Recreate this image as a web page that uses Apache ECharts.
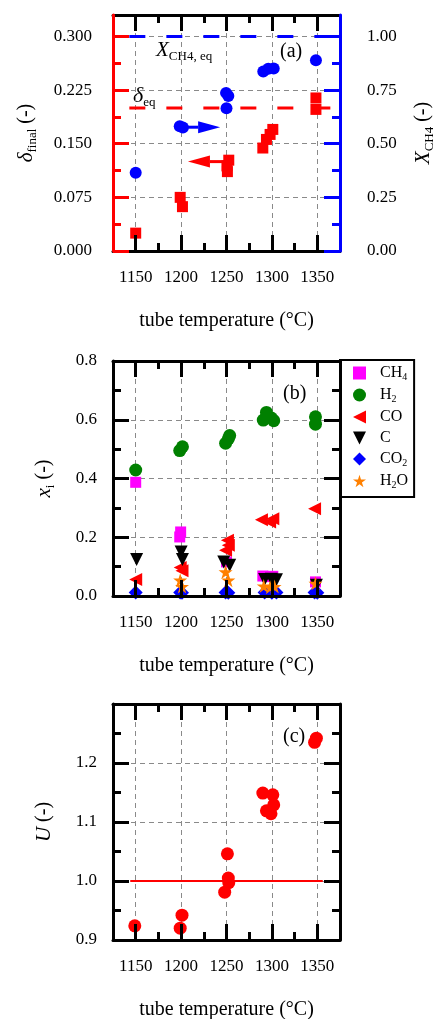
<!DOCTYPE html>
<html>
<head>
<meta charset="utf-8">
<script src="https://cdn.jsdelivr.net/npm/echarts@6/dist/echarts.min.js"></script>
<style>
  html, body { margin: 0; padding: 0; background: #fff; }
  #chart { width: 436px; height: 1019px; }
</style>
</head>
<body>
<div id="chart"></div>
<script>
// ---- temperature axis (°C) ----
const tempMin = 1125, tempMax = 1375;
const tempTicks = [1150, 1200, 1250, 1300, 1350];
const tempMinorTicks = [1175, 1225, 1275, 1325];

// ---- (a) final carbon yield δ_final (left) and methane conversion X_CH4 (right) ----
const deltaTemp  = [1150, 1199, 1201.5, 1252.5, 1250.5, 1251, 1301, 1298, 1294, 1290, 1348.5, 1348.5];
const deltaFinal = [0.025, 0.075, 0.062, 0.127, 0.119, 0.111, 0.170, 0.163, 0.156, 0.144, 0.214, 0.198];
const xch4Temp   = [1150, 1198.5, 1202, 1249.5, 1252, 1250, 1290.5, 1296, 1302, 1348.5];
const xch4Value  = [0.365, 0.582, 0.576, 0.737, 0.722, 0.665, 0.837, 0.850, 0.851, 0.889];
const deltaEq = 0.2;
const xch4Eq = 1.0;
const eqLineTemp = [1143, 1375];
const deltaTicks = [0, 0.075, 0.15, 0.225, 0.3];
const deltaMinorTicks = [0.0375, 0.1125, 0.1875, 0.2625];
const xch4Ticks = [0, 0.25, 0.5, 0.75, 1.0];
const xch4MinorTicks = [0.125, 0.375, 0.625, 0.875];
// arrows pointing each series to its axis: [from, to, level]
const arrowFrom  = [1201, 1248];
const arrowTo    = [1243, 1207.5];
const arrowLevel = [0.577, 0.125];

// ---- (b) product mole fractions x_i ----
const ch4Temp = [1150, 1199.5, 1198.5, 1250, 1290, 1296, 1301, 1348];
const ch4Frac = [0.387, 0.218, 0.201, 0.116, 0.068, 0.066, 0.067, 0.048];
const h2Temp  = [1150, 1198.5, 1201.5, 1249, 1252, 1253.5, 1290.5, 1294, 1299.5, 1302, 1348, 1348];
const h2Frac  = [0.429, 0.495, 0.508, 0.520, 0.535, 0.546, 0.599, 0.625, 0.606, 0.597, 0.610, 0.585];
const coTemp  = [1150, 1199, 1201, 1251, 1249, 1252, 1288.5, 1297.5, 1301, 1347];
const coFrac  = [0.056, 0.097, 0.086, 0.190, 0.156, 0.173, 0.260, 0.252, 0.263, 0.297];
const cTemp   = [1151, 1200, 1201.5, 1247, 1253.5, 1292, 1299.5, 1305, 1349];
const cFrac   = [0.124, 0.150, 0.124, 0.116, 0.105, 0.056, 0.057, 0.055, 0.037];
const co2Temp = [1150, 1199, 1201, 1249, 1252, 1292, 1300, 1305, 1347, 1350];
const co2Frac = [0.012, 0.012, 0.011, 0.012, 0.011, 0.012, 0.011, 0.012, 0.012, 0.011];
const h2oTemp = [1199, 1201, 1249, 1252, 1291, 1298, 1303, 1348];
const h2oFrac = [0.054, 0.032, 0.082, 0.054, 0.034, 0.030, 0.032, 0.043];
const speciesNames = ['CH4', 'H2', 'CO', 'C', 'CO2', 'H2O'];

// ---- (c) U ----
const uTemp  = [1149, 1201, 1199, 1251, 1252, 1252.5, 1248, 1290, 1301, 1302, 1294, 1299, 1349, 1347];
const uValue = [0.924, 0.942, 0.920, 1.046, 1.005, 0.997, 0.981, 1.149, 1.146, 1.129, 1.119, 1.114, 1.242, 1.235];
const uRef = 1.0;
const uRefTemp = [1144, 1356];

// ---- styling ----
const FONT = 'Liberation Serif';
const INK = '#000';
const RED = '#ff0000';
const BLUE = '#0000ff';
const GRID_LINE = { show: true, lineStyle: { color: '#8a8a8a', width: 1, type: [5, 4] } };
const STAR = 'path://M50,0 L61,35 L98,35 L68,57 L79,91 L50,70 L21,91 L32,57 L2,35 L39,35 Z';
const TRI_LEFT = 'path://M0,50 L100,0 L100,100 Z';
const TRI_DOWN = 'path://M0,0 L100,0 L50,100 Z';

const pairs = (t, v) => t.map((x, i) => [x, v[i]]);

const labelStyle = { fontFamily: FONT, fontSize: 17, color: INK };
const nameRich = {
  i: { fontFamily: FONT, fontSize: 21, fontStyle: 'italic', color: INK, lineHeight: 26 },
  n: { fontFamily: FONT, fontSize: 20, color: INK, lineHeight: 26 },
  s: { fontFamily: FONT, fontSize: 13, color: INK, lineHeight: 13, verticalAlign: 'bottom' }
};

function tick(values, len, color) {
  return { show: true, inside: true, length: len, customValues: values,
           lineStyle: { color: color || INK, width: 3 } };
}
const axisLineOn = (color) => ({ show: true, onZero: false, lineStyle: { color: color || INK, width: 3 } });
const axisLineOff = { show: false, onZero: false };

// five x axes per panel: bottom major, bottom minor, top major, top minor, grid lines
function xAxesFor(g) {
  const c = { type: 'value', gridIndex: g, min: tempMin, max: tempMax, splitNumber: 5 };
  return [
    Object.assign({}, c, { z: 5, position: 'bottom', axisLine: axisLineOn(), axisTick: tick(tempTicks, 16),
      axisLabel: Object.assign({ show: true, customValues: tempTicks, margin: 18, formatter: v => String(v) }, labelStyle),
      splitLine: { show: false },
      name: 'tube temperature (°C)', nameLocation: 'middle', nameGap: 60,
      nameTextStyle: { fontFamily: FONT, fontSize: 20, color: INK } }),
    Object.assign({}, c, { z: 5, position: 'bottom', axisLine: axisLineOff, axisTick: tick(tempMinorTicks, 8),
      axisLabel: { show: false }, splitLine: { show: false } }),
    Object.assign({}, c, { z: 5, position: 'top', axisLine: axisLineOn(), axisTick: tick(tempTicks, 16),
      axisLabel: { show: false }, splitLine: { show: false } }),
    Object.assign({}, c, { z: 5, position: 'top', axisLine: axisLineOff, axisTick: tick(tempMinorTicks, 8),
      axisLabel: { show: false }, splitLine: { show: false } }),
    Object.assign({}, c, { z: 0, position: 'bottom', axisLine: axisLineOff, axisTick: { show: false },
      axisLabel: { show: false }, splitLine: GRID_LINE })
  ];
}

// panel (a) y axes: left major, left minor, right major, right minor, grid lines
const yAxesA = [
  { type: 'value', gridIndex: 0, z: 6, position: 'left', min: 0, max: 0.33,
    axisLine: axisLineOn(RED), axisTick: tick(deltaTicks, 16, RED),
    axisLabel: Object.assign({ customValues: deltaTicks, margin: 21, formatter: v => v.toFixed(3) }, labelStyle),
    splitLine: { show: false },
    name: '{i|δ}{s|final}{n| (-)}', nameLocation: 'middle', nameRotate: 90, nameGap: 74,
    nameTextStyle: { rich: nameRich } },
  { type: 'value', gridIndex: 0, z: 6, position: 'left', min: 0, max: 0.33,
    axisLine: axisLineOff, axisTick: tick(deltaMinorTicks, 8, RED), axisLabel: { show: false }, splitLine: { show: false } },
  { type: 'value', gridIndex: 0, z: 6, position: 'right', min: 0, max: 1.1,
    axisLine: axisLineOn(BLUE), axisTick: tick(xch4Ticks, 16, BLUE),
    axisLabel: Object.assign({ customValues: xch4Ticks, margin: 27, formatter: v => v.toFixed(2) }, labelStyle),
    splitLine: { show: false },
    name: '{i|X}{s|CH4}{n| (-)}', nameLocation: 'middle', nameRotate: 90, nameGap: 70,
    nameTextStyle: { rich: nameRich } },
  { type: 'value', gridIndex: 0, z: 6, position: 'right', min: 0, max: 1.1,
    axisLine: axisLineOff, axisTick: tick(xch4MinorTicks, 8, BLUE), axisLabel: { show: false }, splitLine: { show: false } },
  { type: 'value', gridIndex: 0, z: 0, position: 'left', min: 0, max: 0.33, interval: 0.075,
    axisLine: axisLineOff, axisTick: { show: false }, axisLabel: { show: false }, splitLine: GRID_LINE }
];

// panels (b) and (c): left labelled axis, right mirror, grid lines
function yAxesFor(g, min, max, interval, digits, name, showMaxLabel) {
  const c = { type: 'value', gridIndex: g, min: min, max: max, interval: interval };
  const ticks = { show: true, inside: true, length: 16, lineStyle: { color: INK, width: 3 } };
  const minor = { show: true, splitNumber: 2, length: 8, lineStyle: { color: INK, width: 3 } };
  return [
    Object.assign({}, c, { z: 6, position: 'left', axisLine: axisLineOn(), axisTick: ticks, minorTick: minor,
      axisLabel: Object.assign({ margin: 16, showMaxLabel: showMaxLabel, formatter: v => v.toFixed(digits) }, labelStyle),
      splitLine: { show: false },
      name: name, nameLocation: 'middle', nameRotate: 90, nameGap: 56, nameTextStyle: { rich: nameRich } }),
    Object.assign({}, c, { z: 6, position: 'right', axisLine: axisLineOn(), axisTick: ticks, minorTick: minor,
      axisLabel: { show: false }, splitLine: { show: false } }),
    Object.assign({}, c, { z: 0, position: 'left', axisLine: axisLineOff, axisTick: { show: false },
      axisLabel: { show: false }, splitLine: GRID_LINE })
  ];
}

function arrowRenderer(color) {
  return function (params, api) {
    const a = api.coord([api.value(0), api.value(2)]);
    const b = api.coord([api.value(1), api.value(2)]);
    const dir = b[0] > a[0] ? 1 : -1;
    const base = b[0] - dir * 22;
    return {
      type: 'group',
      children: [
        { type: 'line', shape: { x1: a[0], y1: a[1], x2: base, y2: a[1] }, style: { stroke: color, lineWidth: 3 } },
        { type: 'polygon', shape: { points: [[b[0], b[1]], [base, b[1] - 6], [base, b[1] + 6]] }, style: { fill: color } }
      ]
    };
  };
}

const legendLabels = {
  CH4: '{sp|}{n|CH}{s|4}', H2: '{sp|}{n|H}{s|2}', CO: '{sp|}{n|CO}', C: '{sp|}{n|C}',
  CO2: '{sp|}{n|CO}{s|2}', H2O: '{sp|}{n|H}{s|2}{n|O}'
};

const scatterB = (name, t, v, symbol, size, color) => ({
  name: name, type: 'scatter', xAxisIndex: 5, yAxisIndex: 5,
  data: pairs(t, v), symbol: symbol, symbolSize: size,
  itemStyle: { color: color, opacity: 1 }
});

const option = {
  animation: false,
  backgroundColor: '#fff',
  grid: [
    { left: 113, top: 15, width: 227, height: 236, outerBoundsMode: 'none' },
    { left: 113, top: 361, width: 227, height: 235, outerBoundsMode: 'none' },
    { left: 113, top: 704, width: 227, height: 236, outerBoundsMode: 'none' }
  ],
  xAxis: [].concat(xAxesFor(0), xAxesFor(1), xAxesFor(2)),
  yAxis: [].concat(
    yAxesA,
    yAxesFor(1, 0, 0.8, 0.2, 1, '{i|x}{s|i}{n| (-)}', true),
    yAxesFor(2, 0.9, 1.3, 0.1, 1, '{i|U}{n| (-)}', false)
  ),
  legend: {
    data: speciesNames,
    orient: 'vertical', left: 340, top: 360,
    itemWidth: 13, itemHeight: 13, itemGap: 5,
    padding: [5, 6, 7, 13],
    borderColor: INK, borderWidth: 2, backgroundColor: '#fff',
    formatter: name => legendLabels[name],
    textStyle: {
      fontFamily: FONT, fontSize: 16, color: INK,
      rich: {
        sp: { width: 9 },
        n: { fontFamily: FONT, fontSize: 16, color: INK, lineHeight: 18 },
        s: { fontFamily: FONT, fontSize: 10, color: INK, lineHeight: 10, verticalAlign: 'bottom' }
      }
    }
  },
  graphic: [
    { type: 'text', left: 280, top: 42, style: { text: '(a)', fontFamily: FONT, fontSize: 20, fill: INK } },
    { type: 'text', left: 283, top: 384, style: { text: '(b)', fontFamily: FONT, fontSize: 20, fill: INK } },
    { type: 'text', left: 283, top: 727, style: { text: '(c)', fontFamily: FONT, fontSize: 20, fill: INK } },
    { type: 'text', left: 156, top: 40, style: {
        text: '{i|X}{s|CH4, eq}',
        rich: {
          i: { fontFamily: FONT, fontSize: 21, fontStyle: 'italic', fill: INK, lineHeight: 26 },
          s: { fontFamily: FONT, fontSize: 13, fill: INK, lineHeight: 13, verticalAlign: 'bottom' }
        } } },
    { type: 'text', left: 133, top: 85, style: {
        text: '{i|δ}{s|eq}',
        rich: {
          i: { fontFamily: FONT, fontSize: 22, fontStyle: 'italic', fill: INK, lineHeight: 26 },
          s: { fontFamily: FONT, fontSize: 13, fill: INK, lineHeight: 13, verticalAlign: 'bottom' }
        } } }
  ],
  series: [
    // (a)
    { type: 'line', xAxisIndex: 0, yAxisIndex: 0, silent: true, showSymbol: false,
      data: eqLineTemp.map(t => [t, deltaEq]), lineStyle: { color: RED, width: 3, type: [16, 21] } },
    { type: 'line', xAxisIndex: 0, yAxisIndex: 2, silent: true, showSymbol: false,
      data: eqLineTemp.map(t => [t, xch4Eq]), lineStyle: { color: BLUE, width: 3, type: [16, 21] } },
    { name: 'delta', type: 'scatter', xAxisIndex: 0, yAxisIndex: 0, data: pairs(deltaTemp, deltaFinal),
      symbol: 'rect', symbolSize: 11, itemStyle: { color: RED, opacity: 1 } },
    { name: 'xch4', type: 'scatter', xAxisIndex: 0, yAxisIndex: 2, data: pairs(xch4Temp, xch4Value),
      symbol: 'circle', symbolSize: 12, itemStyle: { color: BLUE, opacity: 1 } },
    { type: 'custom', xAxisIndex: 0, yAxisIndex: 2, silent: true,
      data: [[arrowFrom[0], arrowTo[0], arrowLevel[0]]], renderItem: arrowRenderer(BLUE) },
    { type: 'custom', xAxisIndex: 0, yAxisIndex: 0, silent: true,
      data: [[arrowFrom[1], arrowTo[1], arrowLevel[1]]], renderItem: arrowRenderer(RED) },
    // (b)
    scatterB('CH4', ch4Temp, ch4Frac, 'rect', 11, '#ff00ff'),
    scatterB('H2', h2Temp, h2Frac, 'circle', 13, '#008000'),
    scatterB('CO', coTemp, coFrac, TRI_LEFT, 13, RED),
    scatterB('C', cTemp, cFrac, TRI_DOWN, 13, INK),
    scatterB('CO2', co2Temp, co2Frac, 'diamond', 14, BLUE),
    scatterB('H2O', h2oTemp, h2oFrac, STAR, 14, '#ff8000'),
    // (c)
    { type: 'line', xAxisIndex: 10, yAxisIndex: 8, silent: true, showSymbol: false,
      data: uRefTemp.map(t => [t, uRef]), lineStyle: { color: RED, width: 2 } },
    { name: 'U', type: 'scatter', xAxisIndex: 10, yAxisIndex: 8, data: pairs(uTemp, uValue),
      symbol: 'circle', symbolSize: 13, itemStyle: { color: RED, opacity: 1 } }
  ]
};

const chart = echarts.init(document.getElementById('chart'), null, { renderer: 'canvas' });
chart.setOption(option);
</script>
</body>
</html>
